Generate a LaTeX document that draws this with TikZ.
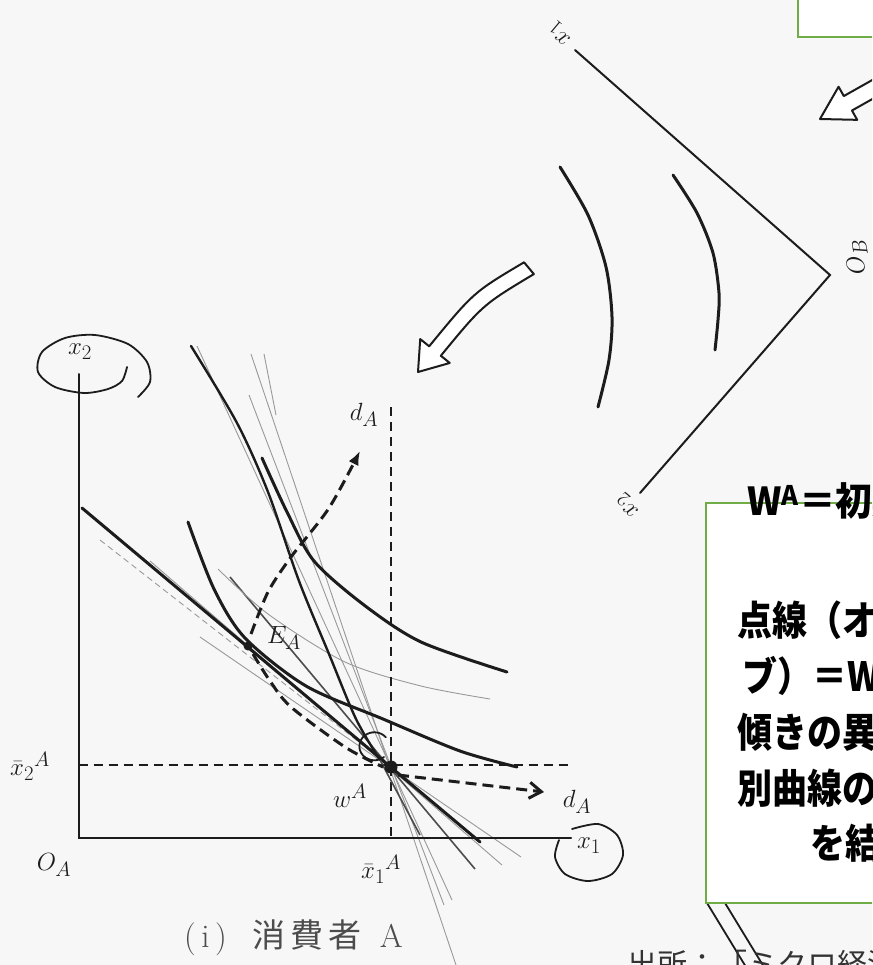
\documentclass[tikz,border=0pt]{standalone}
\usepackage{fontspec}
\usetikzlibrary{arrows.meta}
\newfontfamily\jp{Noto Sans CJK JP}
\definecolor{boxgreen}{RGB}{112,173,71}
\definecolor{ink}{RGB}{28,28,28}
\begin{document}
\begin{tikzpicture}[x=1pt,y=-1pt,
  ax/.style={line width=2pt, ink, line cap=round},
  ic/.style={line width=3pt, ink, line cap=round},
  med/.style={line width=1.6pt, black!70},
  thinl/.style={line width=0.9pt, black!40},
  dsh/.style={line width=2pt, ink, dash pattern=on 9pt off 6pt},
  offer/.style={line width=3pt, ink, dash pattern=on 11pt off 6pt},
  loop/.style={line width=1.8pt, ink, line cap=round},
  lbl/.style={font=\fontsize{28}{28}\selectfont, text=ink, inner sep=0pt},
  blbl/.style={font=\fontsize{32}{32}\selectfont, text=ink, inner sep=0pt},
  gbox/.style={draw=boxgreen, line width=2pt, fill=white},
  hollow/.style={draw=ink, line width=2pt, fill=white, line join=round},
  jtxt/.style={font=\jp\bfseries\fontsize{35}{35}\selectfont, text=black, inner sep=0pt, anchor=west},
]
\useasboundingbox (0,0) rectangle (872,965);
\clip (0,0) rectangle (872,965);
\fill[black!3] (0,0) rectangle (872,965);

% ---------- consumer B (rotated box) ----------
\coordinate (B1) at (575,50);
\coordinate (OB) at (830,275);
\coordinate (B2) at (640,493);
\draw[ax] (B1) -- (OB) -- (B2);
\draw[ic] plot[smooth] coordinates {(560,167) (588,215) (606,267) (612,317) (609,360) (598,407)};
\draw[ic] plot[smooth] coordinates {(673,175) (697,213) (713,253) (719,293) (718,320) (715,350)};
\node[blbl, rotate=140] (bx1) at (560,33) {$x_1$};
\node[blbl, rotate=100] (obl) at (857,257) {$O_B$};
\node[blbl, rotate=140] (bx2) at (628,505) {$x_2$};

% ---------- hollow arrows ----------
\draw[hollow, shift={(418,372)}, rotate=51]
  (0,0) -- (27,19) -- (27,7.5) .. controls (93,8) .. (149,28.4) -- (152,13.4) .. controls (97,-7) .. (27,-7.5) -- (27,-19) -- cycle;
\draw[hollow, shift={(820,119)}, rotate=29.4]
  (0,0) -- (32,19) -- (32,8.3) -- (140,8.3) -- (140,-8.3) -- (32,-8.3) -- (32,-19) -- cycle;

% ---------- consumer A ----------
\coordinate (OA) at (78.5,838);
\coordinate (Ytop) at (78.5,374);
\coordinate (Xend) at (571,838);
\coordinate (W) at (391,767);
\coordinate (E) at (248,646);

% thin fan lines through w^A
\draw[thinl] (197,346) -- (452,900);
\draw[thinl] (249,395) -- (444,905);
\draw[thinl] (251,354) -- (456,965);
\draw[thinl] (150,561) -- (502,865);
\draw[thinl] (200,637) -- (521,857);
\draw[med] (230,577) -- (475,869);
\draw[thinl, dash pattern=on 6pt off 4pt] (100,540) -- (W);
\draw[thinl] plot[smooth] coordinates {(218,569) (268,614) (345,662) (421,686) (490,699)};
\draw[thinl] (264,354) -- (276,415);

% axes
\draw[ax] (Ytop) -- (OA) -- (Xend);

% dashed guides
\draw[dsh] (78.5,765) -- (572,765);
\draw[dsh] (391,407) -- (391,838);

% budget line and indifference curves
\draw[ic] (82,508) -- (480,842);
\draw[ic] plot[smooth] coordinates {(188,522) (214,589) (245,638) (306,686) (383,719) (460,751) (517,767)};
\draw[ic] plot[smooth] coordinates {(262,458) (287,512) (314,561) (364,605) (421,642) (507,672)};
\draw[line width=2.4pt, ink, line cap=round] plot[smooth] coordinates {(191,346) (237,423) (268,492) (299,581) (329,654) (356,719) (380,760)};
\draw[med] (380,760) -- (420,835);

% offer curve
\draw[offer, -{Latex[length=14pt,width=11pt]}] plot[smooth] coordinates {(251,634) (268,592) (291,557) (329,508) (360,451)};
\draw[offer] plot[smooth] coordinates {(253,654) (270,681) (291,707) (345,747) (383,767)};
\draw[offer, -{Straight Barb[length=12pt,width=16pt]}] (398,775) -- (544,792);

% points
\fill[ink] (E) circle (4.5pt);
\fill[ink] (W) circle (6.5pt);

% hand-drawn loops
\draw[loop] plot[smooth] coordinates {(127,367) (122,381) (108,389) (84,393) (55,387) (38,372) (42,352) (65,338) (95,335) (128,344) (147,362) (150,382) (138,397)};
\draw[loop] plot[smooth] coordinates {(572,829) (598,824) (617,835) (623,855) (612,874) (588,881) (565,874) (555,857) (559,840)};
\draw[loop] (384,757) arc[start angle=50, end angle=320, x radius=15, y radius=14];

% labels A
\node[lbl] (ax2) at (80,352) {$x_2$};
\node[lbl] (ax1) at (589,846) {$x_1$};
\node[lbl] (oa) at (54,865) {$O_A$};
\node[lbl] (xb2) at (30,766) {$\bar{x}_2{}^{A}$};
\node[lbl] (xb1) at (381,869) {$\bar{x}_1{}^{A}$};
\node[lbl] (wl) at (350,796) {$w^{A}$};
\node[lbl] (el) at (284,638) {$E_A$};
\node[lbl] (d1) at (364,415) {$d_A$};
\node[lbl] (d2) at (577,802) {$d_A$};
\node[font=\fontsize{33}{33}\selectfont, text=black!70, inner sep=0pt, anchor=west] (cap) at (184,938)
  {(\,i\,)\hspace{26pt}{\jp 消\hspace{5pt}費\hspace{5pt}者}\hspace{18pt}A};

% ---------- boxes (top right) ----------
\draw[line width=1.8pt, ink] (707,903) -- (760,990);
\draw[line width=1.8pt, ink] (725,903) -- (778,990);
\draw[gbox] (798,-10) rectangle (900,37);
\draw[gbox] (706,503) rectangle (900,903);

\node[jtxt] (bw) at (747,501) {\scalebox{1.05}[1.1]{W\textsuperscript{A}＝初期保有点}};
\node[jtxt] (b1) at (737,620) {\scalebox{1}[1.15]{点線（オファーカー}};
\node[jtxt] (b2) at (742,676) {\scalebox{1}[1.15]{ブ）＝W\textsuperscript{A}を通る}};
\node[jtxt] (b3) at (737,732) {\scalebox{1}[1.15]{傾きの異なる予算線と無差}};
\node[jtxt] (b4) at (737,788) {\scalebox{1}[1.15]{別曲線の接点}};
\node[jtxt] (b5) at (810,843) {\scalebox{1}[1.15]{を結んだもの}};

\node[font=\jp\fontsize{30}{30}\selectfont, text=black!80, inner sep=0pt, anchor=north west] (src) at (627,950) {出所：「ミクロ経済学」};
\end{tikzpicture}
\end{document}
